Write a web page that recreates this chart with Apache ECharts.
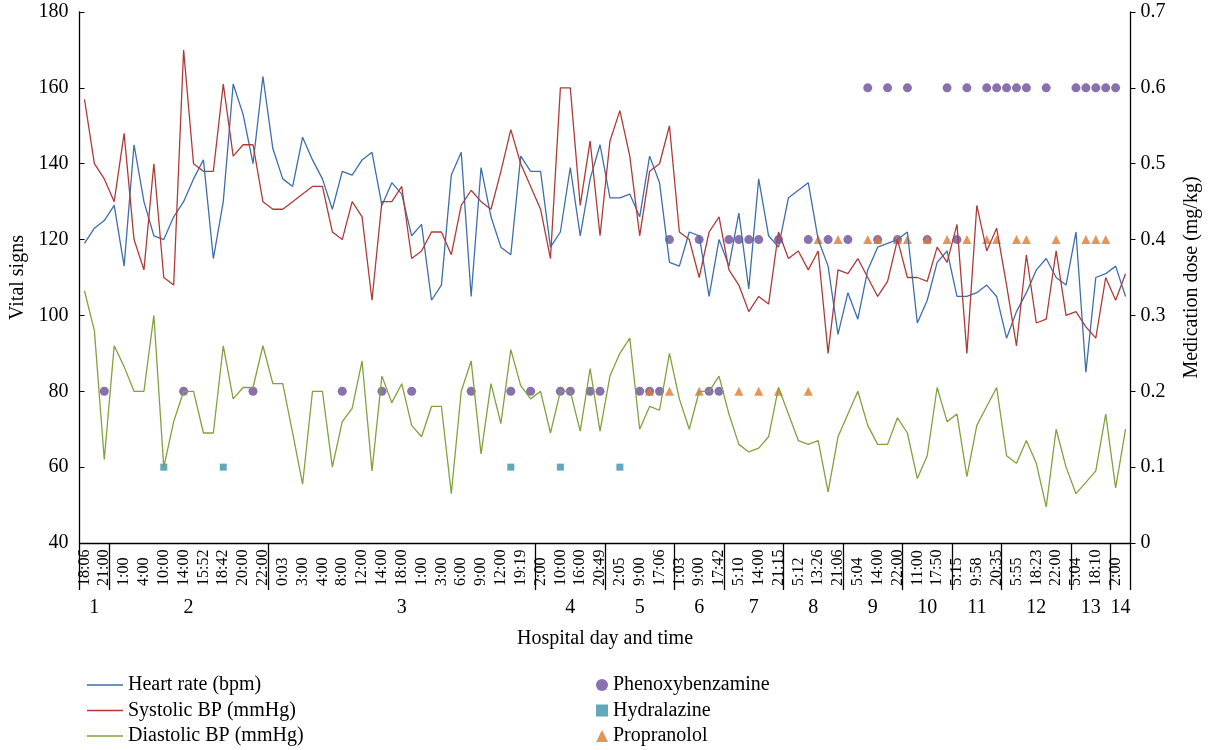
<!DOCTYPE html>
<html><head><meta charset="utf-8">
<script src="https://cdn.jsdelivr.net/npm/echarts@6/dist/echarts.min.js"></script>
<style>html,body{margin:0;padding:0;background:#fff}#chart{width:1210px;height:750px}</style>
</head><body><div id="chart"></div>
<script>
// Time labels shown at every second reading (index 0,2,4,...,104)
const timeLabels = ['18:06','21:00','1:00','4:00','10:00','14:00','15:52','18:42','20:00','22:00',
  '0:03','3:00','4:00','8:00','12:00','14:00','18:00','1:00','3:00','6:00','9:00','12:00','19:19',
  '2:00','10:00','16:00','20:49','2:05','9:00','17:06','1:03','9:00','17:42','5:10','14:00','21:15',
  '5:12','13:26','21:06','5:04','14:00','22:00','11:00','17:50','5:15','9:58','20:35',
  '5:55','18:23','22:00','5:04','18:10','2:00'];
const readingCount = 106;
// first reading index of each hospital day (last entry = end)
const dayStarts = [0,3,19,46,53,60,65,71,77,83,88,93,100,104,106];
const dayNames = ['1','2','3','4','5','6','7','8','9','10','11','12','13','14'];

const heartRate = [119,123,125,129,113,145,130,121,120,126,130,136,141,115,130,161,153,140,163,144,
  136,134,147,141,136,128,138,137,141,143,129,135,132,121,124,104,108,137,143,105,
  139,126,118,116,142,138,138,118,122,139,121,136,145,131,131,132,126,142,135,114,
  113,122,121,105,120,113,127,107,136,121,118,131,133,135,120,113,95,106,99,112,
  118,119,120,122,98,104,114,117,105,105,106,108,105,94,101,106,112,115,110,108,
  122,85,110,111,113,105];
const systolic = [157,140,136,130,148,120,112,140,110,108,170,140,138,138,161,142,145,145,130,128,
  128,130,132,134,134,122,120,130,126,104,130,130,134,115,117,122,122,116,129,133,
  130,128,138,149,140,134,128,115,160,160,129,146,121,146,154,142,121,138,140,150,
  122,120,110,122,126,112,108,101,105,103,122,115,117,112,117,90,112,111,115,110,
  105,109,120,110,110,109,118,114,124,90,129,117,123,108,92,116,98,99,117,100,
  101,97,94,110,104,111];
const diastolic = [106.5,96,62,92,86.5,80,80,100,60,72,80,80,69,69,92,78,81,81,92,82,
  82,69,55.5,80,80,60,72,75.5,88,59,84,77,82,71,68,76,76,53,80,88,
  63.5,82,71.5,91,81.5,78,80,69,80,80,69.5,86,69.5,84,90,94,70,76,75,90,
  78,70,80,80,84,74,66,64,65,68,81,74,67,66,67,53.5,68,74,80,71,
  66,66,73,69,57,63,81,72,74,57.5,71,76,81,63,61,67,61,49.5,70,60,
  53,56,59,74,54.5,70];

const phenoxyIdx  = [2,10,17,26,30,33,39,43,45,48,49,51,52,56,57,58,63,64,
  59,62,65,66,67,68,70,73,75,77,80,82,85,88,
  79,81,83,87,89,91,92,93,94,95,97,100,101,102,103,104];
const phenoxyDose = [0.2,0.2,0.2,0.2,0.2,0.2,0.2,0.2,0.2,0.2,0.2,0.2,0.2,0.2,0.2,0.2,0.2,0.2,
  0.4,0.4,0.4,0.4,0.4,0.4,0.4,0.4,0.4,0.4,0.4,0.4,0.4,0.4,
  0.6,0.6,0.6,0.6,0.6,0.6,0.6,0.6,0.6,0.6,0.6,0.6,0.6,0.6,0.6,0.6];
const hydralIdx  = [8,14,43,48,54];
const hydralDose = [0.1,0.1,0.1,0.1,0.1];
const propIdx  = [57,59,62,66,68,70,73,
  74,76,79,80,82,83,85,87,89,91,92,94,95,98,101,102,103];
const propDose = [0.2,0.2,0.2,0.2,0.2,0.2,0.2,
  0.4,0.4,0.4,0.4,0.4,0.4,0.4,0.4,0.4,0.4,0.4,0.4,0.4,0.4,0.4,0.4,0.4];

const FONT = "'Liberation Serif','Times New Roman',serif";
const categories = [];
for (let i = 0; i < readingCount; i++) categories.push(i % 2 === 0 ? timeLabels[i / 2] : '');
const dayCenters = [];
for (let k = 0; k < dayNames.length; k++) dayCenters.push((dayStarts[k] + dayStarts[k + 1]) / 2);
const pairs = (idx, val) => idx.map((x, k) => [x, val[k]]);

const legendText = { fontSize: 20, fontFamily: FONT, color: '#000', lineHeight: 20, padding: 0 };

const chart = echarts.init(document.getElementById('chart'));
chart.setOption({
  animation: false,
  backgroundColor: '#fff',
  textStyle: { fontFamily: FONT, color: '#000' },
  grid: { left: 79.5, right: 79.5, top: 12, bottom: 207, containLabel: false, outerBoundsMode: 'none' },
  xAxis: [{
    type: 'category', data: categories, boundaryGap: true, position: 'bottom',
    axisLine: { onZero: false, lineStyle: { color: '#000', width: 1.3 } },
    axisTick: { show: false },
    axisLabel: { interval: 0, rotate: 90, align: 'left', margin: 43, fontSize: 16, fontFamily: FONT, color: '#000' },
    splitLine: { show: false }
  }, {
    type: 'value', min: 0, max: readingCount, position: 'bottom',
    axisLine: { show: false, onZero: false },
    axisTick: { show: true, customValues: dayStarts, length: 47, lineStyle: { color: '#000', width: 1.3 } },
    axisLabel: { customValues: dayCenters, margin: 55, fontSize: 20, fontFamily: FONT, color: '#000',
      formatter: v => { const k = dayCenters.indexOf(v); return k >= 0 ? dayNames[k] : ''; } },
    splitLine: { show: false },
    name: 'Hospital day and time', nameLocation: 'middle', nameGap: 86,
    nameTextStyle: { fontSize: 20, fontFamily: FONT, color: '#000' }
  }],
  yAxis: [{
    type: 'value', min: 40, max: 180, interval: 20, position: 'left',
    name: 'Vital signs', nameLocation: 'middle', nameGap: 51, nameRotate: 90,
    nameTextStyle: { fontSize: 20, fontFamily: FONT, color: '#000' },
    axisLine: { show: true, lineStyle: { color: '#000', width: 1.3 } },
    axisTick: { show: true, inside: true, length: 5, lineStyle: { color: '#000' } },
    axisLabel: { fontSize: 20, fontFamily: FONT, color: '#000', margin: 11 },
    splitLine: { show: false }
  }, {
    type: 'value', min: 0, max: 0.7, interval: 0.1, position: 'right',
    name: 'Medication dose (mg/kg)', nameLocation: 'middle', nameGap: 51, nameRotate: 90,
    nameTextStyle: { fontSize: 20, fontFamily: FONT, color: '#000' },
    axisLine: { show: true, lineStyle: { color: '#000', width: 1.3 } },
    axisTick: { show: true, length: 5, lineStyle: { color: '#000' } },
    axisLabel: { fontSize: 20, fontFamily: FONT, color: '#000', margin: 10 },
    splitLine: { show: false }
  }],
  legend: [{
    orient: 'vertical', left: 82, top: 670, height: 80, itemWidth: 36, itemHeight: 1.6, itemGap: 5.5,
    icon: 'rect',
    textStyle: legendText,
    data: ['Heart rate (bpm)', 'Systolic BP (mmHg)', 'Diastolic BP (mmHg)']
  }, {
    orient: 'vertical', left: 591, top: 670, height: 80, itemWidth: 12, itemHeight: 12, itemGap: 5.5,
    textStyle: legendText,
    data: ['Phenoxybenzamine', 'Hydralazine', 'Propranolol']
  }],
  series: [
    { name: 'Heart rate (bpm)', type: 'line', data: heartRate, symbol: 'none', xAxisIndex: 0, yAxisIndex: 0,
      color: '#3E6EAB', lineStyle: { width: 1.3, color: '#3E6EAB' } },
    { name: 'Systolic BP (mmHg)', type: 'line', data: systolic, symbol: 'none', xAxisIndex: 0, yAxisIndex: 0,
      color: '#AE3B38', lineStyle: { width: 1.3, color: '#AE3B38' } },
    { name: 'Diastolic BP (mmHg)', type: 'line', data: diastolic, symbol: 'none', xAxisIndex: 0, yAxisIndex: 0,
      color: '#80A33D', lineStyle: { width: 1.3, color: '#80A33D' } },
    { name: 'Phenoxybenzamine', type: 'scatter', data: pairs(phenoxyIdx, phenoxyDose), xAxisIndex: 0, yAxisIndex: 1,
      symbol: 'circle', symbolSize: 9, itemStyle: { color: '#6A4E98' } },
    { name: 'Hydralazine', type: 'scatter', data: pairs(hydralIdx, hydralDose), xAxisIndex: 0, yAxisIndex: 1,
      symbol: 'rect', symbolSize: 7, itemStyle: { color: '#3B92AC' } },
    { name: 'Propranolol', type: 'scatter', data: pairs(propIdx, propDose), xAxisIndex: 0, yAxisIndex: 1,
      symbol: 'triangle', symbolSize: 9, itemStyle: { color: '#E07B2F' } }
  ]
});
</script></body></html>
